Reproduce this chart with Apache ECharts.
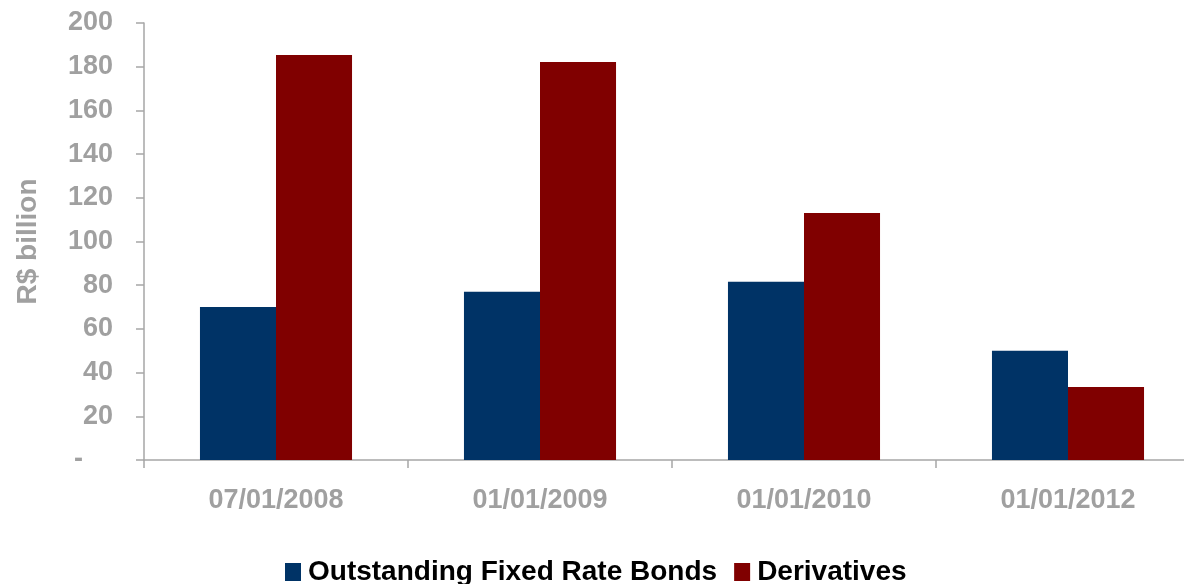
<!DOCTYPE html>
<html>
<head>
<meta charset="utf-8">
<script src="https://cdn.jsdelivr.net/npm/echarts@6/dist/echarts.min.js"></script>
<style>
  html, body { margin: 0; padding: 0; background: #ffffff; overflow: hidden; }
  /* canvas is wider than the window so the plot can run past the right edge */
  #chart { width: 1216px; height: 584px; }
</style>
</head>
<body>
<div id="chart"></div>
<script>
// Dates of each observation
const categories = ['07/01/2008', '01/01/2009', '01/01/2010', '01/01/2012'];
// R$ billion
const fixedRateBonds = [70, 77, 81.6, 50];
const derivatives = [185.4, 182.2, 113, 33.4];
const yTicks = [0, 20, 40, 60, 80, 100, 120, 140, 160, 180, 200];

const gray = '#A0A0A0';
const axisGray = '#A6A6A6';
const font = '"Liberation Sans", Arial, sans-serif';

const chart = echarts.init(document.getElementById('chart'), null, { renderer: 'canvas' });
chart.setOption({
  animation: false,
  backgroundColor: '#ffffff',
  grid: { left: 144, top: 23, width: 1056, height: 437, containLabel: false },
  legend: {
    top: 553,
    left: 280,
    itemWidth: 16,
    itemHeight: 18,
    itemGap: 17,
    icon: 'rect',
    textStyle: { color: '#000000', fontSize: 28, fontWeight: 'bold', fontFamily: font, padding: [0, 0, 0, 2] },
    data: ['Outstanding Fixed Rate Bonds', 'Derivatives']
  },
  xAxis: {
    type: 'category',
    data: categories,
    axisLine: { lineStyle: { color: axisGray, width: 1.5 } },
    axisTick: { show: true, length: 8, lineStyle: { color: axisGray, width: 1.5 } },
    axisLabel: { color: gray, fontSize: 27, fontWeight: 'bold', fontFamily: font, margin: 27 }
  },
  yAxis: {
    type: 'value',
    min: yTicks[0],
    max: yTicks[yTicks.length - 1],
    interval: 20,
    name: 'R$ billion',
    nameLocation: 'middle',
    nameGap: 102,
    nameRotate: 90,
    nameTextStyle: { color: gray, fontSize: 28, fontWeight: 'bold', fontFamily: font },
    splitLine: { show: false },
    axisLine: { show: true, lineStyle: { color: axisGray, width: 1.5 } },
    axisTick: { show: true, length: 8, lineStyle: { color: axisGray, width: 1.5 } },
    axisLabel: {
      color: gray, fontSize: 27, fontWeight: 'bold', fontFamily: font, margin: 31,
      // zero is shown as a dash, padded like an accounting format
      formatter: v => (v === 0 ? '{dash|-}' : String(v)),
      rich: {
        dash: { color: gray, fontSize: 27, fontWeight: 'bold', fontFamily: font, padding: [0, 30, 0, 0] }
      }
    }
  },
  series: [
    {
      name: 'Outstanding Fixed Rate Bonds',
      type: 'bar',
      data: fixedRateBonds,
      barGap: '0%',
      barCategoryGap: '42.4%',
      itemStyle: { color: '#003366' }
    },
    {
      name: 'Derivatives',
      type: 'bar',
      data: derivatives,
      barGap: '0%',
      barCategoryGap: '42.4%',
      itemStyle: { color: '#800000' }
    }
  ]
});
</script>
</body>
</html>
